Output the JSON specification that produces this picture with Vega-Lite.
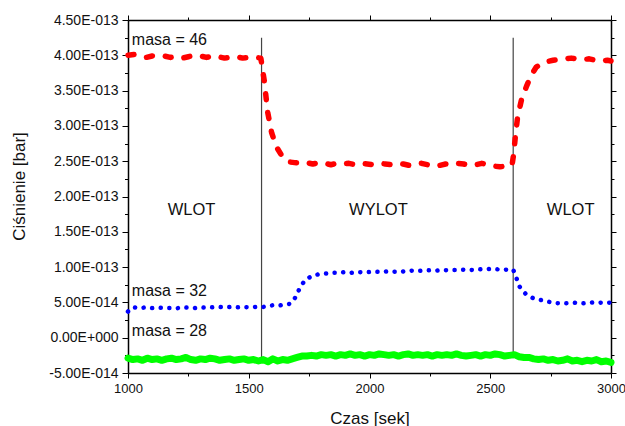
{
  "$schema": "https://vega.github.io/schema/vega-lite/v6.json",
  "width": 483,
  "height": 353,
  "autosize": "none",
  "padding": {"left": 128, "top": 20, "right": 14, "bottom": 53},
  "background": "white",
  "config": {
    "view": {"stroke": null},
    "font": "Liberation Sans",
    "axis": {
      "grid": false,
      "domainColor": "#000000",
      "domainWidth": 1.5,
      "tickColor": "#000000",
      "tickWidth": 1,
      "labelColor": "#111111",
      "labelFont": "Liberation Sans",
      "labelFontSize": 14,
      "labelFlush": false,
      "labelOverlap": false,
      "titleFont": "Liberation Sans",
      "titleFontSize": 17,
      "titleFontWeight": "normal",
      "titleColor": "#111111",
      "labelPadding": 4
    }
  },
  "datasets": {
    "m46": [
      {"czas": 1000, "cisnienie": 4.00e-13}, {"czas": 1025, "cisnienie": 4.01e-13}, {"czas": 1050, "cisnienie": 3.98e-13},
      {"czas": 1075, "cisnienie": 3.97e-13}, {"czas": 1100, "cisnienie": 3.99e-13}, {"czas": 1125, "cisnienie": 3.98e-13},
      {"czas": 1150, "cisnienie": 3.99e-13}, {"czas": 1175, "cisnienie": 3.97e-13}, {"czas": 1200, "cisnienie": 3.98e-13},
      {"czas": 1225, "cisnienie": 3.96e-13}, {"czas": 1250, "cisnienie": 3.98e-13}, {"czas": 1275, "cisnienie": 4.00e-13},
      {"czas": 1300, "cisnienie": 3.99e-13}, {"czas": 1325, "cisnienie": 3.97e-13}, {"czas": 1350, "cisnienie": 3.99e-13},
      {"czas": 1375, "cisnienie": 3.98e-13}, {"czas": 1400, "cisnienie": 3.96e-13}, {"czas": 1425, "cisnienie": 3.97e-13},
      {"czas": 1450, "cisnienie": 3.98e-13}, {"czas": 1475, "cisnienie": 3.96e-13}, {"czas": 1500, "cisnienie": 3.97e-13},
      {"czas": 1525, "cisnienie": 3.97e-13}, {"czas": 1550, "cisnienie": 3.96e-13}, {"czas": 1555, "cisnienie": 3.85e-13},
      {"czas": 1565, "cisnienie": 3.62e-13}, {"czas": 1578, "cisnienie": 3.20e-13}, {"czas": 1595, "cisnienie": 2.90e-13},
      {"czas": 1615, "cisnienie": 2.70e-13}, {"czas": 1640, "cisnienie": 2.56e-13}, {"czas": 1665, "cisnienie": 2.49e-13},
      {"czas": 1690, "cisnienie": 2.48e-13}, {"czas": 1715, "cisnienie": 2.47e-13}, {"czas": 1740, "cisnienie": 2.48e-13},
      {"czas": 1765, "cisnienie": 2.46e-13}, {"czas": 1790, "cisnienie": 2.48e-13}, {"czas": 1815, "cisnienie": 2.47e-13},
      {"czas": 1840, "cisnienie": 2.45e-13}, {"czas": 1865, "cisnienie": 2.47e-13}, {"czas": 1890, "cisnienie": 2.46e-13},
      {"czas": 1915, "cisnienie": 2.47e-13}, {"czas": 1940, "cisnienie": 2.45e-13}, {"czas": 1965, "cisnienie": 2.47e-13},
      {"czas": 1990, "cisnienie": 2.46e-13}, {"czas": 2015, "cisnienie": 2.45e-13}, {"czas": 2040, "cisnienie": 2.47e-13},
      {"czas": 2065, "cisnienie": 2.46e-13}, {"czas": 2090, "cisnienie": 2.45e-13}, {"czas": 2115, "cisnienie": 2.47e-13},
      {"czas": 2140, "cisnienie": 2.46e-13}, {"czas": 2165, "cisnienie": 2.44e-13}, {"czas": 2190, "cisnienie": 2.46e-13},
      {"czas": 2215, "cisnienie": 2.47e-13}, {"czas": 2240, "cisnienie": 2.45e-13}, {"czas": 2265, "cisnienie": 2.46e-13},
      {"czas": 2290, "cisnienie": 2.44e-13}, {"czas": 2315, "cisnienie": 2.46e-13}, {"czas": 2340, "cisnienie": 2.45e-13},
      {"czas": 2365, "cisnienie": 2.47e-13}, {"czas": 2390, "cisnienie": 2.46e-13}, {"czas": 2415, "cisnienie": 2.44e-13},
      {"czas": 2440, "cisnienie": 2.45e-13}, {"czas": 2465, "cisnienie": 2.47e-13}, {"czas": 2490, "cisnienie": 2.45e-13},
      {"czas": 2515, "cisnienie": 2.43e-13}, {"czas": 2540, "cisnienie": 2.42e-13}, {"czas": 2565, "cisnienie": 2.43e-13},
      {"czas": 2590, "cisnienie": 2.44e-13}, {"czas": 2597, "cisnienie": 2.60e-13}, {"czas": 2604, "cisnienie": 2.85e-13},
      {"czas": 2613, "cisnienie": 3.12e-13}, {"czas": 2630, "cisnienie": 3.38e-13}, {"czas": 2650, "cisnienie": 3.56e-13},
      {"czas": 2670, "cisnienie": 3.72e-13}, {"czas": 2690, "cisnienie": 3.83e-13}, {"czas": 2710, "cisnienie": 3.88e-13},
      {"czas": 2735, "cisnienie": 3.91e-13}, {"czas": 2760, "cisnienie": 3.93e-13}, {"czas": 2785, "cisnienie": 3.94e-13},
      {"czas": 2810, "cisnienie": 3.95e-13}, {"czas": 2835, "cisnienie": 3.96e-13}, {"czas": 2860, "cisnienie": 3.95e-13},
      {"czas": 2885, "cisnienie": 3.94e-13}, {"czas": 2910, "cisnienie": 3.95e-13}, {"czas": 2935, "cisnienie": 3.93e-13},
      {"czas": 2960, "cisnienie": 3.92e-13}, {"czas": 2985, "cisnienie": 3.93e-13}, {"czas": 3000, "cisnienie": 3.92e-13}
    ],
    "m32": [
      {"czas": 1000, "cisnienie": 3.7e-14}, {"czas": 1010, "cisnienie": 4.1e-14}, {"czas": 1025, "cisnienie": 4.3e-14},
      {"czas": 1050, "cisnienie": 4.2e-14}, {"czas": 1075, "cisnienie": 4.3e-14}, {"czas": 1100, "cisnienie": 4.2e-14},
      {"czas": 1125, "cisnienie": 4.25e-14}, {"czas": 1150, "cisnienie": 4.2e-14}, {"czas": 1175, "cisnienie": 4.2e-14},
      {"czas": 1200, "cisnienie": 4.15e-14}, {"czas": 1225, "cisnienie": 4.3e-14}, {"czas": 1250, "cisnienie": 4.25e-14},
      {"czas": 1275, "cisnienie": 4.2e-14}, {"czas": 1300, "cisnienie": 4.3e-14}, {"czas": 1325, "cisnienie": 4.25e-14},
      {"czas": 1350, "cisnienie": 4.3e-14}, {"czas": 1375, "cisnienie": 4.35e-14}, {"czas": 1400, "cisnienie": 4.3e-14},
      {"czas": 1425, "cisnienie": 4.35e-14}, {"czas": 1450, "cisnienie": 4.3e-14}, {"czas": 1475, "cisnienie": 4.35e-14},
      {"czas": 1500, "cisnienie": 4.3e-14}, {"czas": 1525, "cisnienie": 4.35e-14}, {"czas": 1550, "cisnienie": 4.3e-14},
      {"czas": 1575, "cisnienie": 4.45e-14}, {"czas": 1600, "cisnienie": 4.6e-14}, {"czas": 1625, "cisnienie": 4.55e-14},
      {"czas": 1650, "cisnienie": 4.7e-14}, {"czas": 1670, "cisnienie": 4.8e-14}, {"czas": 1685, "cisnienie": 5.2e-14},
      {"czas": 1700, "cisnienie": 6.2e-14}, {"czas": 1715, "cisnienie": 7.3e-14}, {"czas": 1735, "cisnienie": 8.2e-14},
      {"czas": 1760, "cisnienie": 8.7e-14}, {"czas": 1790, "cisnienie": 9.0e-14}, {"czas": 1825, "cisnienie": 9.1e-14},
      {"czas": 1850, "cisnienie": 9.2e-14}, {"czas": 1875, "cisnienie": 9.2e-14}, {"czas": 1900, "cisnienie": 9.3e-14},
      {"czas": 1925, "cisnienie": 9.2e-14}, {"czas": 1950, "cisnienie": 9.3e-14}, {"czas": 1975, "cisnienie": 9.25e-14},
      {"czas": 2000, "cisnienie": 9.3e-14}, {"czas": 2025, "cisnienie": 9.35e-14}, {"czas": 2050, "cisnienie": 9.3e-14},
      {"czas": 2075, "cisnienie": 9.4e-14}, {"czas": 2100, "cisnienie": 9.35e-14}, {"czas": 2125, "cisnienie": 9.3e-14},
      {"czas": 2150, "cisnienie": 9.45e-14}, {"czas": 2175, "cisnienie": 9.5e-14}, {"czas": 2200, "cisnienie": 9.45e-14},
      {"czas": 2225, "cisnienie": 9.5e-14}, {"czas": 2250, "cisnienie": 9.55e-14}, {"czas": 2275, "cisnienie": 9.5e-14},
      {"czas": 2300, "cisnienie": 9.6e-14}, {"czas": 2325, "cisnienie": 9.55e-14}, {"czas": 2350, "cisnienie": 9.6e-14},
      {"czas": 2375, "cisnienie": 9.6e-14}, {"czas": 2400, "cisnienie": 9.65e-14}, {"czas": 2425, "cisnienie": 9.6e-14},
      {"czas": 2450, "cisnienie": 9.7e-14}, {"czas": 2475, "cisnienie": 9.65e-14}, {"czas": 2500, "cisnienie": 9.75e-14},
      {"czas": 2525, "cisnienie": 9.7e-14}, {"czas": 2550, "cisnienie": 9.6e-14}, {"czas": 2575, "cisnienie": 9.65e-14},
      {"czas": 2595, "cisnienie": 9.65e-14}, {"czas": 2610, "cisnienie": 8.3e-14}, {"czas": 2620, "cisnienie": 7.3e-14},
      {"czas": 2635, "cisnienie": 6.6e-14}, {"czas": 2650, "cisnienie": 6.1e-14}, {"czas": 2670, "cisnienie": 5.7e-14},
      {"czas": 2690, "cisnienie": 5.45e-14}, {"czas": 2715, "cisnienie": 5.3e-14}, {"czas": 2740, "cisnienie": 5.1e-14},
      {"czas": 2770, "cisnienie": 4.9e-14}, {"czas": 2800, "cisnienie": 4.85e-14}, {"czas": 2830, "cisnienie": 4.9e-14},
      {"czas": 2850, "cisnienie": 4.95e-14}, {"czas": 2875, "cisnienie": 4.85e-14}, {"czas": 2900, "cisnienie": 4.9e-14},
      {"czas": 2925, "cisnienie": 5.0e-14}, {"czas": 2950, "cisnienie": 4.95e-14}, {"czas": 2975, "cisnienie": 5.0e-14},
      {"czas": 3000, "cisnienie": 4.95e-14}
    ],
    "m28": [
      {"czas": 1000, "cisnienie": -2.9e-14}, {"czas": 1020, "cisnienie": -3.1e-14}, {"czas": 1040, "cisnienie": -3.0e-14},
      {"czas": 1060, "cisnienie": -3.2e-14}, {"czas": 1080, "cisnienie": -2.9e-14}, {"czas": 1100, "cisnienie": -3.1e-14},
      {"czas": 1120, "cisnienie": -3.0e-14}, {"czas": 1140, "cisnienie": -3.2e-14}, {"czas": 1160, "cisnienie": -3.0e-14},
      {"czas": 1180, "cisnienie": -2.9e-14}, {"czas": 1200, "cisnienie": -3.1e-14}, {"czas": 1220, "cisnienie": -3.0e-14},
      {"czas": 1240, "cisnienie": -2.8e-14}, {"czas": 1260, "cisnienie": -3.1e-14}, {"czas": 1280, "cisnienie": -3.2e-14},
      {"czas": 1300, "cisnienie": -3.0e-14}, {"czas": 1320, "cisnienie": -3.1e-14}, {"czas": 1340, "cisnienie": -2.9e-14},
      {"czas": 1360, "cisnienie": -3.0e-14}, {"czas": 1380, "cisnienie": -3.2e-14}, {"czas": 1400, "cisnienie": -3.1e-14},
      {"czas": 1420, "cisnienie": -3.0e-14}, {"czas": 1440, "cisnienie": -3.2e-14}, {"czas": 1460, "cisnienie": -3.1e-14},
      {"czas": 1480, "cisnienie": -3.0e-14}, {"czas": 1500, "cisnienie": -3.2e-14}, {"czas": 1520, "cisnienie": -3.1e-14},
      {"czas": 1540, "cisnienie": -3.3e-14}, {"czas": 1560, "cisnienie": -3.1e-14}, {"czas": 1580, "cisnienie": -3.4e-14},
      {"czas": 1600, "cisnienie": -3.0e-14}, {"czas": 1620, "cisnienie": -3.3e-14}, {"czas": 1640, "cisnienie": -3.1e-14},
      {"czas": 1660, "cisnienie": -3.2e-14}, {"czas": 1680, "cisnienie": -3.0e-14}, {"czas": 1700, "cisnienie": -2.8e-14},
      {"czas": 1720, "cisnienie": -2.6e-14}, {"czas": 1740, "cisnienie": -2.6e-14}, {"czas": 1760, "cisnienie": -2.5e-14},
      {"czas": 1780, "cisnienie": -2.6e-14}, {"czas": 1800, "cisnienie": -2.4e-14}, {"czas": 1820, "cisnienie": -2.5e-14},
      {"czas": 1840, "cisnienie": -2.4e-14}, {"czas": 1860, "cisnienie": -2.6e-14}, {"czas": 1880, "cisnienie": -2.4e-14},
      {"czas": 1900, "cisnienie": -2.5e-14}, {"czas": 1920, "cisnienie": -2.3e-14}, {"czas": 1940, "cisnienie": -2.5e-14},
      {"czas": 1960, "cisnienie": -2.4e-14}, {"czas": 1980, "cisnienie": -2.6e-14}, {"czas": 2000, "cisnienie": -2.4e-14},
      {"czas": 2020, "cisnienie": -2.5e-14}, {"czas": 2040, "cisnienie": -2.3e-14}, {"czas": 2060, "cisnienie": -2.4e-14},
      {"czas": 2080, "cisnienie": -2.5e-14}, {"czas": 2100, "cisnienie": -2.4e-14}, {"czas": 2120, "cisnienie": -2.6e-14},
      {"czas": 2140, "cisnienie": -2.4e-14}, {"czas": 2160, "cisnienie": -2.3e-14}, {"czas": 2180, "cisnienie": -2.5e-14},
      {"czas": 2200, "cisnienie": -2.4e-14}, {"czas": 2220, "cisnienie": -2.5e-14}, {"czas": 2240, "cisnienie": -2.4e-14},
      {"czas": 2260, "cisnienie": -2.6e-14}, {"czas": 2280, "cisnienie": -2.4e-14}, {"czas": 2300, "cisnienie": -2.5e-14},
      {"czas": 2320, "cisnienie": -2.4e-14}, {"czas": 2340, "cisnienie": -2.5e-14}, {"czas": 2360, "cisnienie": -2.3e-14},
      {"czas": 2380, "cisnienie": -2.5e-14}, {"czas": 2400, "cisnienie": -2.6e-14}, {"czas": 2420, "cisnienie": -2.5e-14},
      {"czas": 2440, "cisnienie": -2.4e-14}, {"czas": 2460, "cisnienie": -2.6e-14}, {"czas": 2480, "cisnienie": -2.4e-14},
      {"czas": 2500, "cisnienie": -2.5e-14}, {"czas": 2520, "cisnienie": -2.3e-14}, {"czas": 2540, "cisnienie": -2.4e-14},
      {"czas": 2560, "cisnienie": -2.6e-14}, {"czas": 2580, "cisnienie": -2.5e-14}, {"czas": 2600, "cisnienie": -2.4e-14},
      {"czas": 2620, "cisnienie": -2.7e-14}, {"czas": 2640, "cisnienie": -2.8e-14}, {"czas": 2660, "cisnienie": -2.8e-14},
      {"czas": 2680, "cisnienie": -3.0e-14}, {"czas": 2700, "cisnienie": -3.1e-14}, {"czas": 2720, "cisnienie": -3.0e-14},
      {"czas": 2740, "cisnienie": -3.2e-14}, {"czas": 2760, "cisnienie": -3.1e-14}, {"czas": 2780, "cisnienie": -3.3e-14},
      {"czas": 2800, "cisnienie": -3.2e-14}, {"czas": 2820, "cisnienie": -3.0e-14}, {"czas": 2840, "cisnienie": -3.3e-14},
      {"czas": 2860, "cisnienie": -3.2e-14}, {"czas": 2880, "cisnienie": -3.4e-14}, {"czas": 2900, "cisnienie": -3.2e-14},
      {"czas": 2920, "cisnienie": -3.3e-14}, {"czas": 2940, "cisnienie": -3.1e-14}, {"czas": 2960, "cisnienie": -3.4e-14},
      {"czas": 2980, "cisnienie": -3.3e-14}, {"czas": 3000, "cisnienie": -3.5e-14}
    ],
    "granice": [
      {"czas": 1553, "od": -2.9e-14, "do": 4.25e-13},
      {"czas": 2595, "od": -2.9e-14, "do": 4.25e-13}
    ],
    "masy": [
      {"tekst": "masa = 46", "czas": 1016, "cisnienie": 4.146e-13},
      {"tekst": "masa = 32", "czas": 1016, "cisnienie": 5.95e-14},
      {"tekst": "masa = 28", "czas": 1016, "cisnienie": 2.7e-15}
    ],
    "etapy": [
      {"tekst": "WLOT", "czas": 1263, "cisnienie": 1.81e-13},
      {"tekst": "WYLOT", "czas": 2037, "cisnienie": 1.81e-13},
      {"tekst": "WLOT", "czas": 2833, "cisnienie": 1.81e-13}
    ]
  },
  "layer": [
    {
      "data": {"name": "granice"},
      "mark": {"type": "rule", "color": "#444444", "strokeWidth": 1.2},
      "encoding": {
        "x": {
          "field": "czas", "type": "quantitative",
          "scale": {"domain": [1000, 3000], "nice": false, "zero": false},
          "axis": {
            "orient": "top", "title": null, "labels": false,
            "values": [1000, 1250, 1500, 1750, 2000, 2250, 2500, 2750, 3000],
            "tickSize": {"condition": {"test": "datum.value % 500 == 0", "value": 5}, "value": 3}
          }
        },
        "y": {
          "field": "od", "type": "quantitative",
          "scale": {"domain": [-5e-14, 4.5e-13], "nice": false, "zero": false},
          "axis": {
            "orient": "right", "title": null, "labels": false,
            "values": [-5e-14, -2.5e-14, 0, 2.5e-14, 5e-14, 7.5e-14, 1e-13, 1.25e-13, 1.5e-13, 1.75e-13, 2e-13, 2.25e-13, 2.5e-13, 2.75e-13, 3e-13, 3.25e-13, 3.5e-13, 3.75e-13, 4e-13, 4.25e-13, 4.5e-13],
            "tickSize": {"condition": {"test": "abs(round(datum.value * 1e14)) % 5 == 0", "value": 5}, "value": 3}
          }
        },
        "y2": {"field": "do"}
      }
    },
    {
      "data": {"name": "m28"},
      "mark": {"type": "line", "color": "#00ff00", "strokeWidth": 7, "strokeJoin": "round", "strokeCap": "round"},
      "encoding": {
        "x": {
          "field": "czas", "type": "quantitative",
          "scale": {"domain": [1000, 3000], "nice": false, "zero": false},
          "axis": {
            "orient": "bottom", "title": "Czas [sek]",
            "values": [1000, 1250, 1500, 1750, 2000, 2250, 2500, 2750, 3000],
            "labelExpr": "datum.value % 500 == 0 ? datum.label : ''",
            "format": "d",
            "labelFontSize": 13,
            "tickSize": {"condition": {"test": "datum.value % 500 == 0", "value": 5}, "value": 3},
            "labelPadding": 4,
            "titleBaseline": "alphabetic",
            "titleY": 50
          }
        },
        "y": {
          "field": "cisnienie", "type": "quantitative",
          "scale": {"domain": [-5e-14, 4.5e-13], "nice": false, "zero": false},
          "axis": {
            "orient": "left", "title": "Ciśnienie [bar]",
            "values": [-5e-14, -2.5e-14, 0, 2.5e-14, 5e-14, 7.5e-14, 1e-13, 1.25e-13, 1.5e-13, 1.75e-13, 2e-13, 2.25e-13, 2.5e-13, 2.75e-13, 3e-13, 3.25e-13, 3.5e-13, 3.75e-13, 4e-13, 4.25e-13, 4.5e-13],
            "labelExpr": "abs(round(datum.value * 1e14)) % 5 == 0 ? replace(replace(replace(format(datum.value, '.2e'), '\u2212', '-'), 'e-', 'E-0'), 'e+', 'E+00') : ''",
            "tickSize": {"condition": {"test": "abs(round(datum.value * 1e14)) % 5 == 0", "value": 6}, "value": 3.5},
            "labelPadding": 4,
            "titleBaseline": "alphabetic",
            "titleX": -104,
            "titleY": 166
          }
        }
      }
    },
    {
      "data": {"name": "m32"},
      "mark": {"type": "line", "color": "#0000ff", "strokeWidth": 4.5, "strokeCap": "round", "strokeDash": [0.1, 8.5]},
      "encoding": {
        "x": {"field": "czas", "type": "quantitative", "scale": {"domain": [1000, 3000], "nice": false, "zero": false}, "axis": null},
        "y": {"field": "cisnienie", "type": "quantitative", "scale": {"domain": [-5e-14, 4.5e-13], "nice": false, "zero": false}, "axis": null}
      }
    },
    {
      "data": {"name": "m46"},
      "mark": {"type": "line", "color": "#ff0000", "strokeWidth": 5.5, "strokeCap": "round", "strokeJoin": "round", "strokeDash": [6, 13]},
      "encoding": {
        "x": {"field": "czas", "type": "quantitative", "scale": {"domain": [1000, 3000], "nice": false, "zero": false}, "axis": null},
        "y": {"field": "cisnienie", "type": "quantitative", "scale": {"domain": [-5e-14, 4.5e-13], "nice": false, "zero": false}, "axis": null}
      }
    },
    {
      "data": {"name": "masy"},
      "mark": {"type": "text", "align": "left", "baseline": "alphabetic", "font": "Liberation Sans", "fontSize": 16, "color": "#111111"},
      "encoding": {
        "x": {"field": "czas", "type": "quantitative", "scale": {"domain": [1000, 3000], "nice": false, "zero": false}, "axis": null},
        "y": {"field": "cisnienie", "type": "quantitative", "scale": {"domain": [-5e-14, 4.5e-13], "nice": false, "zero": false}, "axis": null},
        "text": {"field": "tekst"}
      }
    },
    {
      "data": {"name": "etapy"},
      "mark": {"type": "text", "align": "center", "baseline": "middle", "font": "Liberation Sans", "fontSize": 16.5, "color": "#111111"},
      "encoding": {
        "x": {"field": "czas", "type": "quantitative", "scale": {"domain": [1000, 3000], "nice": false, "zero": false}, "axis": null},
        "y": {"field": "cisnienie", "type": "quantitative", "scale": {"domain": [-5e-14, 4.5e-13], "nice": false, "zero": false}, "axis": null},
        "text": {"field": "tekst"}
      }
    }
  ],
  "resolve": {"axis": {"x": "independent", "y": "independent"}}
}
